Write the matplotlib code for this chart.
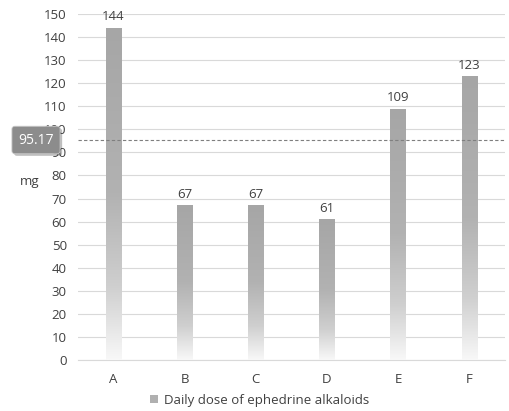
import matplotlib
matplotlib.use("Agg")
import matplotlib.pyplot as plt
import numpy as np
from matplotlib.patches import Patch
from matplotlib.colors import LinearSegmentedColormap
import matplotlib.patheffects as pe

categories = ["A", "B", "C", "D", "E", "F"]
values = [144, 67, 67, 61, 109, 123]
average = 95.17
series_name = "Daily dose of ephedrine alkaloids"
yticks = list(range(0, 151, 10))

plt.rcParams['font.family'] = ['Open Sans', 'DejaVu Sans']

fig = plt.figure(figsize=(5.09, 4.11), dpi=100)
ax = fig.add_axes([0.153, 0.124, 0.839, 0.842])

x = np.arange(len(categories))
bars = ax.bar(x, values, width=0.22, facecolor='none', edgecolor='none', zorder=3)

cmap = LinearSegmentedColormap.from_list(
    "grad", [(0.0, "#a6a6a6"), (0.5, "#b2b2b2"), (0.78, "#cfcfcf"), (1.0, "#f8f8f8")])
grad = np.linspace(0, 1, 256).reshape(-1, 1)
for b in bars:
    x0, y0 = b.get_x(), b.get_y()
    w, h = b.get_width(), b.get_height()
    im = ax.imshow(grad, cmap=cmap, aspect='auto', extent=[x0, x0 + w, y0, y0 + h],
                   origin='upper', zorder=3, interpolation='bilinear')
    im.set_clip_path(b)

for xi, v in zip(x, values):
    ax.text(xi, v + 2, str(v), ha='center', va='bottom', fontsize=9.5, color='#404040', zorder=4)

ax.axhline(average, color='#7f7f7f', linestyle=(0, (3, 2)), linewidth=0.8, zorder=4)

ax.set_xlim(-0.5, len(categories) - 0.5)
ax.set_ylim(0, 150)
ax.set_yticks(yticks)
ax.set_xticks(x)
ax.set_xticklabels(categories)
ax.tick_params(axis='both', length=0, labelsize=9.5, colors='#404040', pad=8)
ax.tick_params(axis='x', pad=9)
ax.grid(axis='y', color='#d9d9d9', linewidth=0.8, zorder=0)
ax.set_axisbelow(True)
for s in ['top', 'right', 'left']:
    ax.spines[s].set_visible(False)
ax.spines['bottom'].set_color('#d9d9d9')
ax.spines['bottom'].set_linewidth(0.8)

fig.text(20 / 509, 1 - 181 / 411, "mg", ha='left', va='center', fontsize=9.5, color='#404040')

fig.text(36 / 509, 1 - 140 / 411, "{:.2f}".format(average), ha='center', va='center',
         fontsize=10, color='white', zorder=10,
         bbox=dict(boxstyle='round,pad=0.45,rounding_size=0.2', facecolor='#8c8c8c',
                   edgecolor='#c8c8c8', linewidth=0.6,
                   path_effects=[pe.SimplePatchShadow(offset=(1.5, -1.5), alpha=0.3), pe.Normal()]))

leg = fig.legend(handles=[Patch(facecolor='#b0b0b0', edgecolor='none', label=series_name)],
                 loc='center', bbox_to_anchor=(0.51, 1 - 400 / 411), frameon=False,
                 fontsize=9.5, handlelength=0.6, handleheight=0.6, handletextpad=0.4)
for t in leg.get_texts():
    t.set_color('#404040')

fig.savefig("out.png", dpi=100)
